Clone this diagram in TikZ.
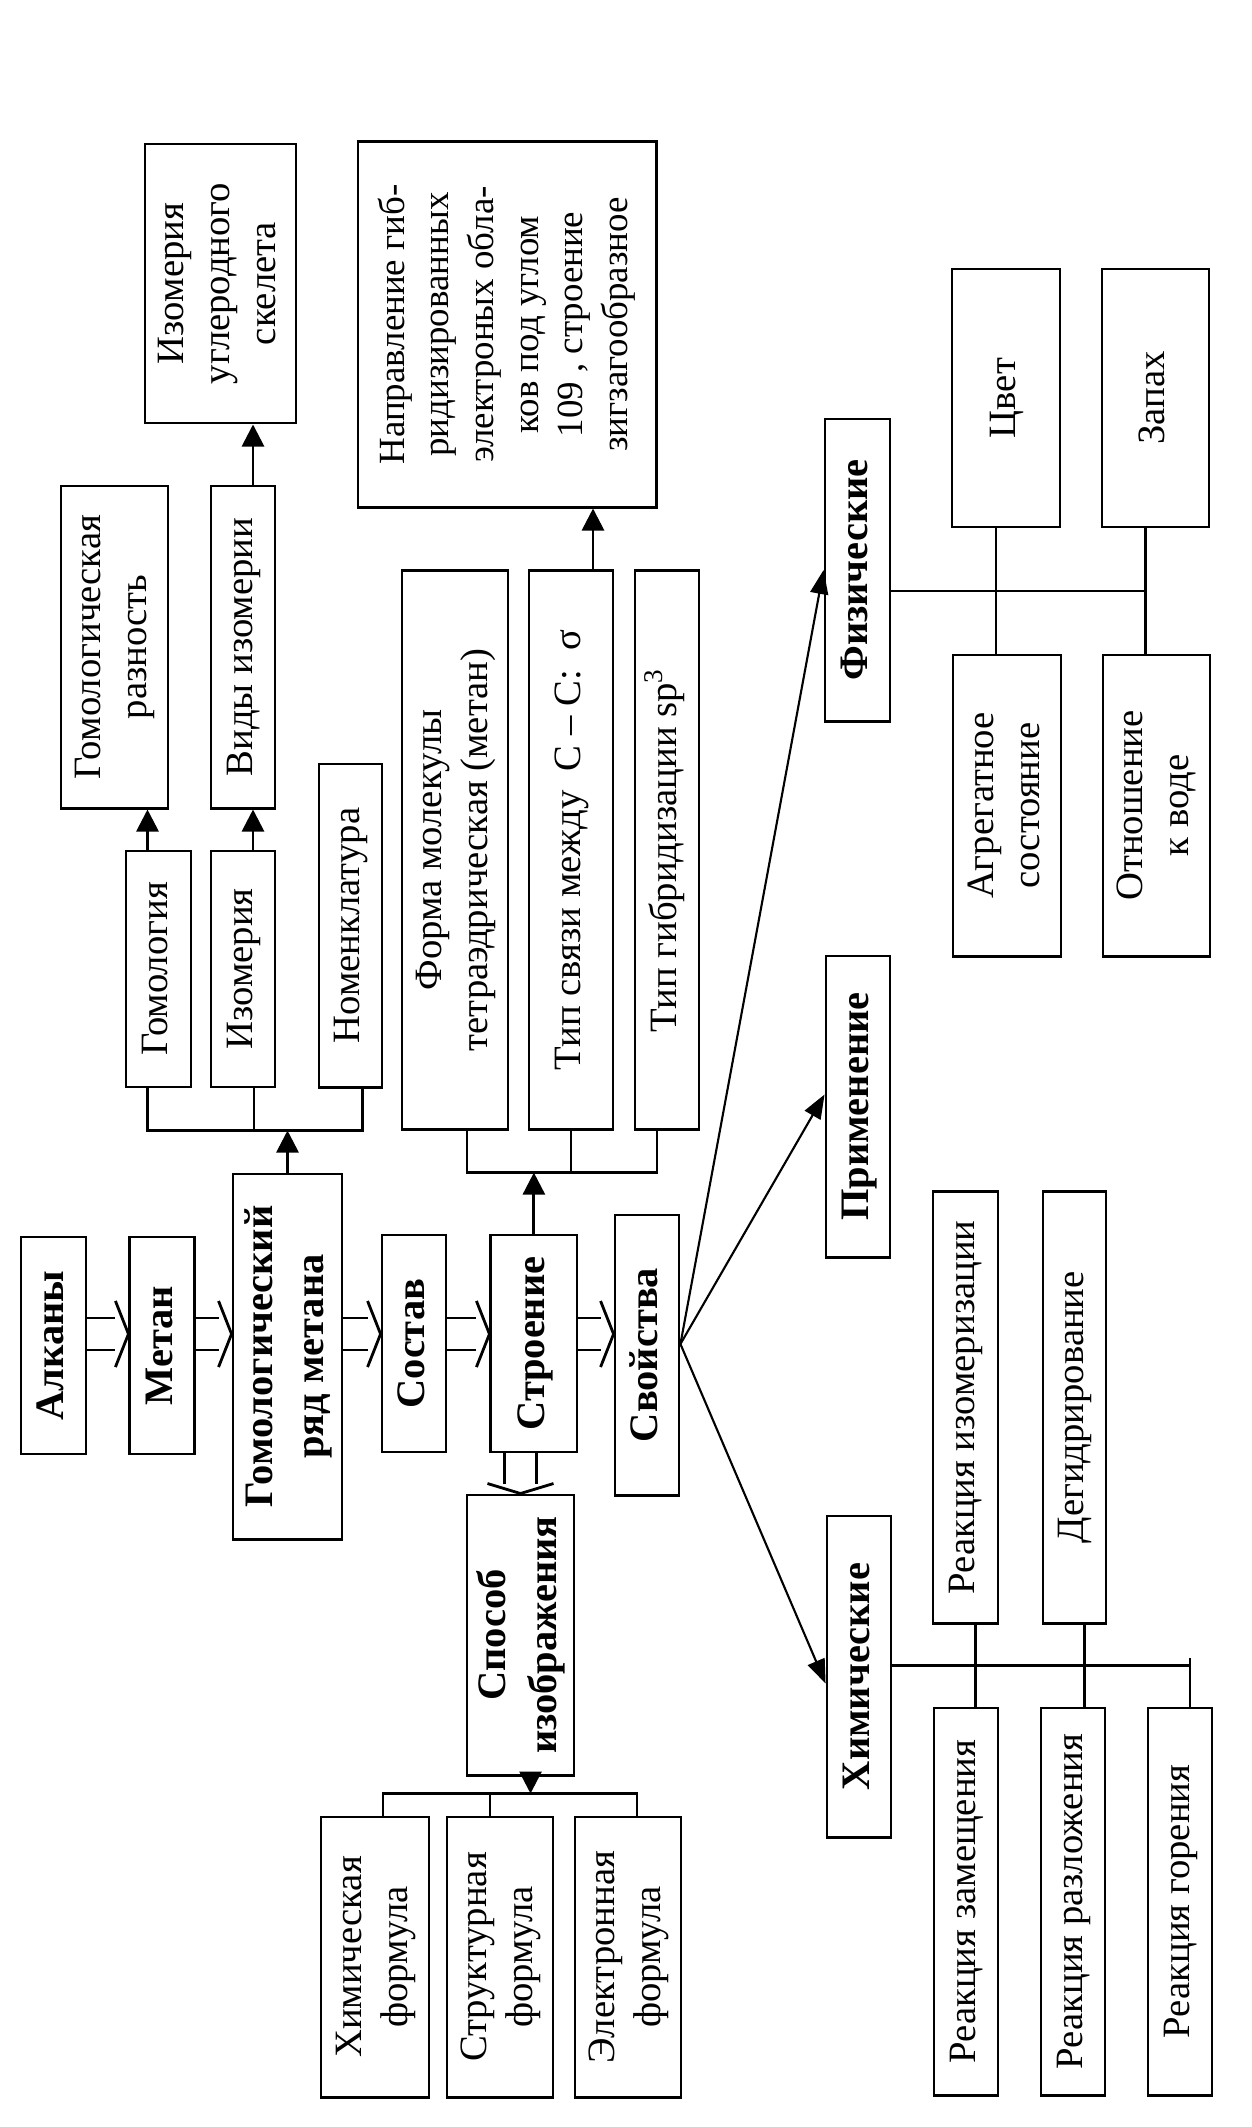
\documentclass[tikz,border=0pt]{standalone}
\usepackage{fontspec}
\setmainfont{Liberation Serif}
\usepackage{graphicx}
\usetikzlibrary{positioning}
\usetikzlibrary{arrows.meta}

% text that runs upwards in a box
\newcommand{\vtext}[1]{\rotatebox{90}{\begin{tabular}{@{}c@{}}#1\end{tabular}}}

% wide hollow arrow between two boxes of the main row
\newcommand{\fatarrow}[2]{%
  \draw[thick] ([yshift=0.16cm]#1.east |- axis) -- ([xshift=-0.13cm,yshift=0.16cm]#2.west |- axis)
               ([yshift=-0.16cm]#1.east |- axis) -- ([xshift=-0.13cm,yshift=-0.16cm]#2.west |- axis);
  \draw[thick] ([xshift=-0.13cm,yshift=0.33cm]#2.west |- axis) -- (#2.west |- axis) -- ([xshift=-0.13cm,yshift=-0.33cm]#2.west |- axis);}

\begin{document}
\begin{tikzpicture}[%
    x=0.01cm, y=-0.01cm,
box/.style={rectangle, draw, thick, inner sep=0pt, font=\fontsize{11}{13}\selectfont},
hbox/.style={box, font=\fontsize{11.5}{14.5}\selectfont\bfseries},
joint/.style={thick},
pointer/.style={thick, -{Triangle[length=0.22cm, width=0.22cm]}},
slimpointer/.style={semithick, -{Triangle[length=0.24cm, width=0.18cm]}}
]
\useasboundingbox (0,0) rectangle (1252,2127);
\coordinate (axis) at (0,1334);

% Main row
\node[hbox, minimum width=0.65cm, minimum height=2.17cm] (alkany) at (53.5,1345.5) {\vtext{Алканы}};
\node[hbox, minimum width=0.65cm, minimum height=2.17cm] (metan) [right=0.41cm of alkany] {\vtext{Метан}};
\node[hbox, minimum width=1.09cm, minimum height=3.65cm] (homrow) at (287.5,1356.5) {\vtext{Гомологический\\ряд метана}};
\node[hbox, minimum width=0.64cm, minimum height=2.17cm] (sostav) at (414,1343.5) {\vtext{Состав}};
\node[hbox, minimum width=0.86cm, minimum height=2.17cm] (stroenie) [right=0.42cm of sostav] {\vtext{Строение}};
\node[hbox, minimum width=0.64cm, minimum height=2.80cm] (svoistva) at (647,1355) {\vtext{Свойства}};

% Main row lines
\fatarrow{alkany}{metan}
\fatarrow{metan}{homrow}
\fatarrow{homrow}{sostav}
\fatarrow{sostav}{stroenie}
\fatarrow{stroenie}{svoistva}

% Homology nodes
\node[box, minimum width=0.65cm, minimum height=2.36cm] (homology) at (158.5,969) {\vtext{Гомология}};
\node[box, minimum width=0.64cm, minimum height=2.36cm] (isomery) at (243,969) {\vtext{Изомерия}};
\node[box, minimum width=0.63cm, minimum height=3.23cm] (nomenclature) at (350.5,925.5) {\vtext{Номенклатура}};
\node[box, minimum width=1.07cm, minimum height=3.22cm] (homdiff) at (114.5,647) {\vtext{Гомологическая\\разность}};
\node[box, minimum width=0.64cm, minimum height=3.22cm] (isotypes) at (243,647) {\vtext{Виды изомерии}};
\node[box, minimum width=1.51cm, minimum height=2.79cm] (skeleton) at (220.5,283.5) {\vtext{Изомерия\\углеродного\\скелета}};

% Homology lines
\coordinate (homfork) at ([yshift=-0.42cm]homology.south);
\draw[joint] ([xshift=-0.11cm]homology.south) |- ([xshift=0.12cm]nomenclature.south |- homfork) -- ([xshift=0.12cm]nomenclature.south);
\draw[joint] ([xshift=0.11cm]isomery.south) -- ([xshift=0.11cm]isomery.south |- homfork);
\draw[pointer] (homrow.north) -- (homrow.north |- homfork);
\draw[pointer] ([xshift=-0.11cm]homology.north) -- ([xshift=-0.11cm]homology.north |- homdiff.south);
\draw[pointer] ([xshift=0.1cm]isomery.north) -- ([xshift=0.1cm]isomery.north |- isotypes.south);
\draw[pointer] ([xshift=0.1cm]isotypes.north) -- ([xshift=0.1cm]isotypes.north |- skeleton.south);

% Structure nodes
\node[box, minimum width=1.06cm, minimum height=5.58cm] (molshape) at (455,850) {\vtext{Форма молекулы\\тетраэдрическая (метан)}};
\node[box, minimum width=0.84cm, minimum height=5.58cm] (bondtype) at (571,850) {\vtext{Тип связи между~ C – C:~ σ}};
\node[box, minimum width=0.64cm, minimum height=5.58cm] (hybrid) at (667,850) {\vtext{Тип гибридизации sp\textsuperscript{3}}};
\node[box, minimum width=2.98cm, minimum height=3.65cm, font=\fontsize{10.5}{12.7}\selectfont] (direction) at (507,324.5) {\vtext{Направление гиб-\\ридизированных\\электроных обла-\\ков под углом\\109 , строение\\зигзагообразное}};

% Structure lines
\coordinate (strfork) at ([yshift=-0.42cm]molshape.south);
\draw[joint] ([xshift=0.12cm]molshape.south) |- ([xshift=-0.1cm]hybrid.south |- strfork) -- ([xshift=-0.1cm]hybrid.south);
\draw[joint] (bondtype.south) -- (bondtype.south |- strfork);
\draw[pointer] (stroenie.north) -- (stroenie.north |- strfork);
\draw[pointer] ([xshift=0.22cm]bondtype.north) -- ([xshift=0.22cm]bondtype.north |- direction.south);

% Drawing nodes
\node[hbox, minimum width=1.07cm, minimum height=2.80cm] (sposob) at (520.5,1635) {\vtext{Способ\\изображения}};
\node[box, minimum width=1.08cm, minimum height=2.80cm] (chemformula) at (375,1957) {\vtext{Химическая\\формула}};
\node[box, minimum width=1.06cm, minimum height=2.80cm] (structformula) at (500,1957) {\vtext{Структурная\\формула}};
\node[box, minimum width=1.06cm, minimum height=2.80cm] (elformula) at (628,1957) {\vtext{Электронная\\формула}};

% Drawing lines
\draw[thick] ([xshift=-0.16cm]stroenie.south -| sposob.north) -- ([xshift=-0.16cm,yshift=0.1cm]sposob.north)
             ([xshift=0.16cm]stroenie.south -| sposob.north) -- ([xshift=0.16cm,yshift=0.1cm]sposob.north);
\draw[thick] ([xshift=-0.33cm,yshift=0.1cm]sposob.north) -- (sposob.north) -- ([xshift=0.33cm,yshift=0.1cm]sposob.north);
\coordinate (formfork) at ([yshift=0.22cm]chemformula.north);
\draw[joint] ([xshift=0.08cm]chemformula.north) |- ([xshift=0.09cm]elformula.north |- formfork) -- ([xshift=0.09cm]elformula.north);
\draw[joint] ([xshift=-0.1cm]structformula.north) -- ([xshift=-0.1cm]structformula.north |- formfork);
\draw[pointer] ([xshift=0.1cm]sposob.south) -- ([xshift=0.1cm]sposob.south |- formfork);

% Properties nodes
\node[hbox, minimum width=0.65cm, minimum height=3.02cm] (physical) at (857.5,570) {\vtext{Физические}};
\node[hbox, minimum width=0.64cm, minimum height=3.01cm] (application) at (858,1106.5) {\vtext{Применение}};
\node[hbox, minimum width=0.64cm, minimum height=3.21cm] (chemical) at (859,1676.5) {\vtext{Химические}};

% Properties lines
\coordinate (svhub) at ([yshift=0.11cm]svoistva.east);
\draw[slimpointer] (svhub) -- (physical.west);
\draw[slimpointer] (svhub) -- ([yshift=0.12cm]application.west);
\draw[slimpointer] (svhub) -- ([yshift=-0.07cm]chemical.west);

% Physical nodes
\node[box, minimum width=1.08cm, minimum height=2.58cm] (color) at (1006,398) {\vtext{Цвет}};
\node[box, minimum width=1.07cm, minimum height=2.58cm] (smell) at (1155.5,398) {\vtext{Запах}};
\node[box, minimum width=1.08cm, minimum height=3.01cm] (aggregate) at (1007,805.5) {\vtext{Агрегатное\\состояние}};
\node[box, minimum width=1.07cm, minimum height=3.01cm] (water) at (1156.5,805.5) {\vtext{Отношение\\к воде}};

% Physical lines
\coordinate (colorpin) at ([xshift=-0.1cm]color.south);
\coordinate (smellpin) at ([xshift=-0.1cm]smell.south);
\coordinate (physaxis) at ([yshift=-0.21cm]physical.east);
\draw[joint] (colorpin) -- (colorpin |- aggregate.north);
\draw[joint] (smellpin) -- (smellpin |- water.north);
\draw[joint] (physaxis) -- (smellpin |- physaxis);

% Chemical nodes
\node[box, minimum width=0.65cm, minimum height=4.31cm] (isomerization) at (965.5,1407.5) {\vtext{Реакция изомеризации}};
\node[box, minimum width=0.63cm, minimum height=4.31cm] (dehydro) at (1074.5,1407.5) {\vtext{Дегидрирование}};
\node[box, minimum width=0.64cm, minimum height=3.87cm] (substitution) at (966,1901.5) {\vtext{Реакция замещения}};
\node[box, minimum width=0.64cm, minimum height=3.87cm] (decomposition) at (1073,1901.5) {\vtext{Реакция разложения}};
\node[box, minimum width=0.64cm, minimum height=3.87cm] (burning) at (1180,1901.5) {\vtext{Реакция горения}};

% Chemical lines
\coordinate (chemaxis) at ([yshift=0.11cm]chemical.east);
\coordinate (isopin) at ([xshift=0.1cm]isomerization.south);
\coordinate (dehpin) at ([xshift=0.1cm]dehydro.south);
\coordinate (burnpin) at ([xshift=0.1cm]burning.north);
\draw[joint] (isopin) -- (isopin |- substitution.north);
\draw[joint] (dehpin) -- (dehpin |- decomposition.north);
\draw[joint] (chemaxis) -- (burnpin |- chemaxis);
\draw[joint] (burnpin) -- ([yshift=0.08cm]burnpin |- chemaxis);

\end{tikzpicture}
\end{document}
